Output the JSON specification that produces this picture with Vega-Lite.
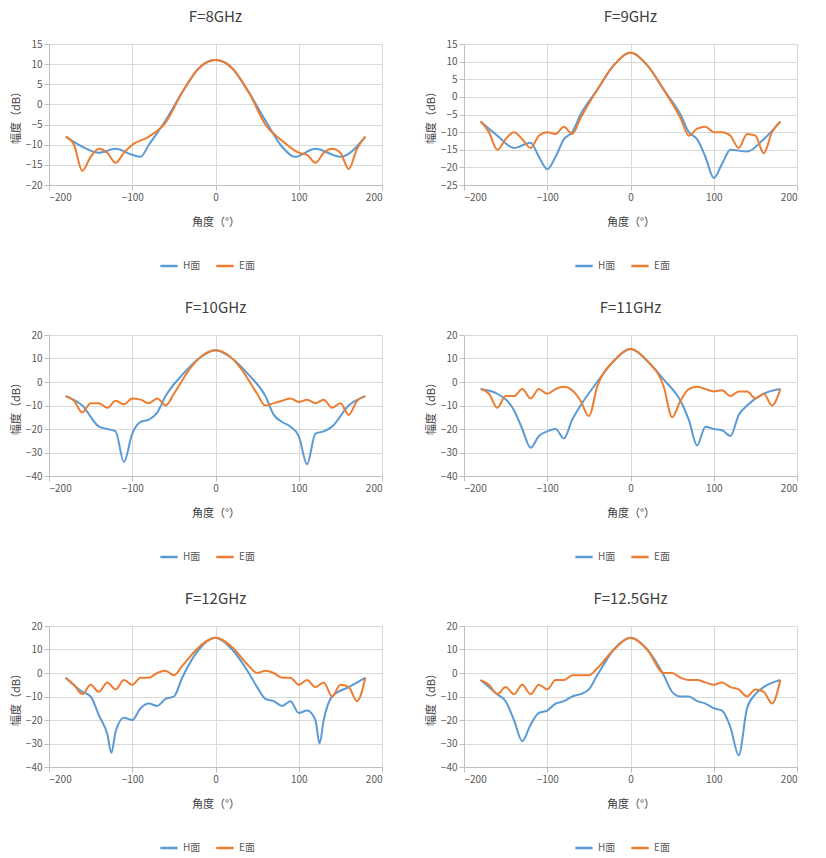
{
"$schema":"https://vega.github.io/schema/vega-lite/v6.json",
"background":"white",
"padding":{"left":10,"top":10,"right":10,"bottom":5},
"columns":2,
"spacing":{"row":30,"column":42},
"resolve":{"legend":{"color":"independent"}},
"config":{"font":"Noto Sans CJK SC","view":{"stroke":null},"axis":{"labelColor":"#595959","titleColor":"#404040","labelFontSize":10,"titleFontSize":11,"titleFontWeight":"normal","gridColor":"#d9d9d9","domainColor":"#bfbfbf","tickColor":"#bfbfbf"},"axisX":{"titlePadding":14},"title":{"fontSize":15,"fontWeight":"normal","color":"#404040","offset":14},"legend":{"orient":"none","legendX":110,"legendY":212,"direction":"horizontal","labelFontSize":10,"labelColor":"#595959","title":null,"symbolType":"stroke","symbolStrokeWidth":2.5,"symbolSize":300}},
"datasets":{
"d8":[
{"a":-180,"s":"H面","v":-8},{"a":-160,"s":"H面","v":-10.5},{"a":-140,"s":"H面","v":-12},{"a":-120,"s":"H面","v":-11},{"a":-100,"s":"H面","v":-12.5},{"a":-90,"s":"H面","v":-13},{"a":-80,"s":"H面","v":-10},{"a":-60,"s":"H面","v":-4},{"a":-40,"s":"H面","v":3},{"a":-20,"s":"H面","v":9},{"a":0,"s":"H面","v":11},{"a":20,"s":"H面","v":9},{"a":40,"s":"H面","v":3},{"a":60,"s":"H面","v":-4},{"a":80,"s":"H面","v":-10.5},{"a":95,"s":"H面","v":-13},{"a":120,"s":"H面","v":-11},{"a":150,"s":"H面","v":-13},{"a":180,"s":"H面","v":-8},
{"a":-180,"s":"E面","v":-8},{"a":-170,"s":"E面","v":-10},{"a":-160,"s":"E面","v":-16.5},{"a":-150,"s":"E面","v":-13},{"a":-140,"s":"E面","v":-11},{"a":-130,"s":"E面","v":-12},{"a":-120,"s":"E面","v":-14.5},{"a":-110,"s":"E面","v":-12},{"a":-100,"s":"E面","v":-10},{"a":-80,"s":"E面","v":-8},{"a":-60,"s":"E面","v":-4.5},{"a":-40,"s":"E面","v":3},{"a":-20,"s":"E面","v":9},{"a":0,"s":"E面","v":11},{"a":20,"s":"E面","v":9},{"a":40,"s":"E面","v":3},{"a":60,"s":"E面","v":-5},{"a":80,"s":"E面","v":-9},{"a":100,"s":"E面","v":-12},{"a":110,"s":"E面","v":-12.5},{"a":120,"s":"E面","v":-14.5},{"a":130,"s":"E面","v":-12},{"a":140,"s":"E面","v":-11},{"a":150,"s":"E面","v":-12},{"a":160,"s":"E面","v":-16},{"a":170,"s":"E面","v":-11},{"a":180,"s":"E面","v":-8}],
"d9":[
{"a":-180,"s":"H面","v":-7},{"a":-160,"s":"H面","v":-11},{"a":-140,"s":"H面","v":-14.5},{"a":-120,"s":"H面","v":-13},{"a":-110,"s":"H面","v":-17},{"a":-100,"s":"H面","v":-20.5},{"a":-90,"s":"H面","v":-17},{"a":-80,"s":"H面","v":-12},{"a":-70,"s":"H面","v":-10},{"a":-60,"s":"H面","v":-5},{"a":-40,"s":"H面","v":2},{"a":-20,"s":"H面","v":9},{"a":0,"s":"H面","v":12.5},{"a":20,"s":"H面","v":9},{"a":40,"s":"H面","v":2},{"a":60,"s":"H面","v":-5},{"a":70,"s":"H面","v":-10},{"a":80,"s":"H面","v":-12},{"a":90,"s":"H面","v":-17},{"a":100,"s":"H面","v":-23},{"a":110,"s":"H面","v":-19},{"a":120,"s":"H面","v":-15},{"a":140,"s":"H面","v":-15.5},{"a":160,"s":"H面","v":-12},{"a":180,"s":"H面","v":-7},
{"a":-180,"s":"E面","v":-7},{"a":-170,"s":"E面","v":-10},{"a":-160,"s":"E面","v":-15},{"a":-150,"s":"E面","v":-12},{"a":-140,"s":"E面","v":-10},{"a":-130,"s":"E面","v":-12},{"a":-120,"s":"E面","v":-14.5},{"a":-110,"s":"E面","v":-11},{"a":-100,"s":"E面","v":-10},{"a":-90,"s":"E面","v":-10.5},{"a":-80,"s":"E面","v":-8.5},{"a":-70,"s":"E面","v":-10.5},{"a":-60,"s":"E面","v":-6},{"a":-40,"s":"E面","v":2},{"a":-20,"s":"E面","v":9},{"a":0,"s":"E面","v":12.5},{"a":20,"s":"E面","v":9},{"a":40,"s":"E面","v":2},{"a":60,"s":"E面","v":-6},{"a":70,"s":"E面","v":-11},{"a":80,"s":"E面","v":-9},{"a":90,"s":"E面","v":-8.5},{"a":100,"s":"E面","v":-10},{"a":110,"s":"E面","v":-10},{"a":120,"s":"E面","v":-11},{"a":130,"s":"E面","v":-14.5},{"a":140,"s":"E面","v":-10.5},{"a":150,"s":"E面","v":-11},{"a":160,"s":"E面","v":-16},{"a":170,"s":"E面","v":-10},{"a":180,"s":"E面","v":-7}],
"d10":[
{"a":-180,"s":"H面","v":-6},{"a":-160,"s":"H面","v":-10},{"a":-140,"s":"H面","v":-19},{"a":-130,"s":"H面","v":-20},{"a":-120,"s":"H面","v":-21},{"a":-110,"s":"H面","v":-34},{"a":-100,"s":"H面","v":-22},{"a":-90,"s":"H面","v":-17},{"a":-80,"s":"H面","v":-16},{"a":-70,"s":"H面","v":-13},{"a":-60,"s":"H面","v":-6},{"a":-40,"s":"H面","v":3},{"a":-20,"s":"H面","v":10},{"a":0,"s":"H面","v":13.5},{"a":20,"s":"H面","v":10},{"a":40,"s":"H面","v":3},{"a":60,"s":"H面","v":-6},{"a":70,"s":"H面","v":-14},{"a":80,"s":"H面","v":-17},{"a":90,"s":"H面","v":-19},{"a":100,"s":"H面","v":-23},{"a":110,"s":"H面","v":-35},{"a":120,"s":"H面","v":-22},{"a":130,"s":"H面","v":-21},{"a":140,"s":"H面","v":-19},{"a":160,"s":"H面","v":-10},{"a":180,"s":"H面","v":-6},
{"a":-180,"s":"E面","v":-6},{"a":-170,"s":"E面","v":-8},{"a":-160,"s":"E面","v":-13},{"a":-150,"s":"E面","v":-9},{"a":-140,"s":"E面","v":-9},{"a":-130,"s":"E面","v":-11},{"a":-120,"s":"E面","v":-8},{"a":-110,"s":"E面","v":-9.5},{"a":-100,"s":"E面","v":-7},{"a":-90,"s":"E面","v":-7.5},{"a":-80,"s":"E面","v":-9},{"a":-70,"s":"E面","v":-7},{"a":-60,"s":"E面","v":-10},{"a":-50,"s":"E面","v":-5},{"a":-30,"s":"E面","v":6},{"a":-15,"s":"E面","v":11.5},{"a":0,"s":"E面","v":13.5},{"a":15,"s":"E面","v":11.5},{"a":30,"s":"E面","v":6},{"a":50,"s":"E面","v":-5},{"a":60,"s":"E面","v":-10},{"a":70,"s":"E面","v":-9},{"a":80,"s":"E面","v":-8},{"a":90,"s":"E面","v":-7},{"a":100,"s":"E面","v":-8.5},{"a":110,"s":"E面","v":-7.5},{"a":120,"s":"E面","v":-9},{"a":130,"s":"E面","v":-7.5},{"a":140,"s":"E面","v":-11},{"a":150,"s":"E面","v":-9},{"a":160,"s":"E面","v":-14},{"a":170,"s":"E面","v":-8},{"a":180,"s":"E面","v":-6}],
"d11":[
{"a":-180,"s":"H面","v":-3},{"a":-160,"s":"H面","v":-5},{"a":-140,"s":"H面","v":-12},{"a":-130,"s":"H面","v":-20},{"a":-120,"s":"H面","v":-28},{"a":-110,"s":"H面","v":-23},{"a":-100,"s":"H面","v":-21},{"a":-90,"s":"H面","v":-20},{"a":-80,"s":"H面","v":-24},{"a":-70,"s":"H面","v":-16},{"a":-60,"s":"H面","v":-10},{"a":-40,"s":"H面","v":0},{"a":-20,"s":"H面","v":9},{"a":0,"s":"H面","v":14},{"a":20,"s":"H面","v":9},{"a":40,"s":"H面","v":1},{"a":60,"s":"H面","v":-8},{"a":70,"s":"H面","v":-16},{"a":80,"s":"H面","v":-27},{"a":90,"s":"H面","v":-19},{"a":100,"s":"H面","v":-20},{"a":110,"s":"H面","v":-20.5},{"a":120,"s":"H面","v":-23},{"a":130,"s":"H面","v":-14},{"a":140,"s":"H面","v":-10},{"a":160,"s":"H面","v":-5},{"a":180,"s":"H面","v":-3},
{"a":-180,"s":"E面","v":-3},{"a":-170,"s":"E面","v":-5},{"a":-160,"s":"E面","v":-11},{"a":-150,"s":"E面","v":-6},{"a":-140,"s":"E面","v":-6},{"a":-130,"s":"E面","v":-3},{"a":-120,"s":"E面","v":-7},{"a":-110,"s":"E面","v":-3},{"a":-100,"s":"E面","v":-5},{"a":-90,"s":"E面","v":-3},{"a":-80,"s":"E面","v":-2},{"a":-70,"s":"E面","v":-3.5},{"a":-60,"s":"E面","v":-8},{"a":-50,"s":"E面","v":-14.5},{"a":-40,"s":"E面","v":-2},{"a":-20,"s":"E面","v":9},{"a":0,"s":"E面","v":14},{"a":20,"s":"E面","v":9},{"a":40,"s":"E面","v":-2},{"a":50,"s":"E面","v":-15},{"a":60,"s":"E面","v":-8},{"a":70,"s":"E面","v":-3},{"a":80,"s":"E面","v":-2},{"a":90,"s":"E面","v":-3},{"a":100,"s":"E面","v":-4},{"a":110,"s":"E面","v":-3.5},{"a":120,"s":"E面","v":-6},{"a":130,"s":"E面","v":-4},{"a":140,"s":"E面","v":-4},{"a":150,"s":"E面","v":-7},{"a":160,"s":"E面","v":-5},{"a":170,"s":"E面","v":-10},{"a":180,"s":"E面","v":-3}],
"d12":[
{"a":-180,"s":"H面","v":-2},{"a":-160,"s":"H面","v":-8},{"a":-150,"s":"H面","v":-10},{"a":-140,"s":"H面","v":-18},{"a":-130,"s":"H面","v":-26},{"a":-125,"s":"H面","v":-34},{"a":-120,"s":"H面","v":-25},{"a":-110,"s":"H面","v":-19},{"a":-100,"s":"H面","v":-20},{"a":-90,"s":"H面","v":-15},{"a":-80,"s":"H面","v":-13},{"a":-70,"s":"H面","v":-14},{"a":-60,"s":"H面","v":-11},{"a":-50,"s":"H面","v":-10},{"a":-40,"s":"H面","v":-2},{"a":-20,"s":"H面","v":10},{"a":0,"s":"H面","v":15},{"a":20,"s":"H面","v":10},{"a":40,"s":"H面","v":0},{"a":50,"s":"H面","v":-6},{"a":60,"s":"H面","v":-11},{"a":70,"s":"H面","v":-12},{"a":80,"s":"H面","v":-14},{"a":90,"s":"H面","v":-12},{"a":100,"s":"H面","v":-17},{"a":110,"s":"H面","v":-16},{"a":120,"s":"H面","v":-20},{"a":125,"s":"H面","v":-30},{"a":130,"s":"H面","v":-20},{"a":140,"s":"H面","v":-10},{"a":160,"s":"H面","v":-6},{"a":180,"s":"H面","v":-2},
{"a":-180,"s":"E面","v":-2},{"a":-170,"s":"E面","v":-5},{"a":-160,"s":"E面","v":-9},{"a":-150,"s":"E面","v":-5},{"a":-140,"s":"E面","v":-8},{"a":-130,"s":"E面","v":-4},{"a":-120,"s":"E面","v":-7},{"a":-110,"s":"E面","v":-3},{"a":-100,"s":"E面","v":-5},{"a":-90,"s":"E面","v":-2},{"a":-80,"s":"E面","v":-2},{"a":-70,"s":"E面","v":0},{"a":-60,"s":"E面","v":1},{"a":-50,"s":"E面","v":-1},{"a":-40,"s":"E面","v":3},{"a":-20,"s":"E面","v":11},{"a":0,"s":"E面","v":15},{"a":20,"s":"E面","v":11},{"a":40,"s":"E面","v":3},{"a":50,"s":"E面","v":0},{"a":60,"s":"E面","v":1},{"a":70,"s":"E面","v":0},{"a":80,"s":"E面","v":-2},{"a":90,"s":"E面","v":-2},{"a":100,"s":"E面","v":-5},{"a":110,"s":"E面","v":-3},{"a":120,"s":"E面","v":-6},{"a":130,"s":"E面","v":-4},{"a":140,"s":"E面","v":-10},{"a":150,"s":"E面","v":-5},{"a":160,"s":"E面","v":-6},{"a":170,"s":"E面","v":-12},{"a":180,"s":"E面","v":-2}],
"d125":[
{"a":-180,"s":"H面","v":-3},{"a":-160,"s":"H面","v":-9},{"a":-150,"s":"H面","v":-12},{"a":-140,"s":"H面","v":-20},{"a":-130,"s":"H面","v":-29},{"a":-120,"s":"H面","v":-22},{"a":-110,"s":"H面","v":-17},{"a":-100,"s":"H面","v":-16},{"a":-90,"s":"H面","v":-13},{"a":-80,"s":"H面","v":-12},{"a":-70,"s":"H面","v":-10},{"a":-60,"s":"H面","v":-9},{"a":-50,"s":"H面","v":-7},{"a":-40,"s":"H面","v":-1},{"a":-20,"s":"H面","v":10},{"a":0,"s":"H面","v":15},{"a":20,"s":"H面","v":10},{"a":40,"s":"H面","v":-1},{"a":50,"s":"H面","v":-8},{"a":60,"s":"H面","v":-10},{"a":70,"s":"H面","v":-10},{"a":80,"s":"H面","v":-12},{"a":90,"s":"H面","v":-13},{"a":100,"s":"H面","v":-15},{"a":110,"s":"H面","v":-16},{"a":120,"s":"H面","v":-23},{"a":130,"s":"H面","v":-35},{"a":140,"s":"H面","v":-15},{"a":150,"s":"H面","v":-9},{"a":160,"s":"H面","v":-6},{"a":180,"s":"H面","v":-3},
{"a":-180,"s":"E面","v":-3},{"a":-170,"s":"E面","v":-5},{"a":-160,"s":"E面","v":-9},{"a":-150,"s":"E面","v":-6},{"a":-140,"s":"E面","v":-9},{"a":-130,"s":"E面","v":-5},{"a":-120,"s":"E面","v":-9},{"a":-110,"s":"E面","v":-5},{"a":-100,"s":"E面","v":-7},{"a":-90,"s":"E面","v":-3},{"a":-80,"s":"E面","v":-3},{"a":-70,"s":"E面","v":-1},{"a":-60,"s":"E面","v":-1},{"a":-50,"s":"E面","v":-1},{"a":-40,"s":"E面","v":2},{"a":-20,"s":"E面","v":10},{"a":0,"s":"E面","v":15},{"a":20,"s":"E面","v":10},{"a":40,"s":"E面","v":0},{"a":50,"s":"E面","v":0},{"a":60,"s":"E面","v":-2},{"a":70,"s":"E面","v":-3},{"a":80,"s":"E面","v":-3},{"a":90,"s":"E面","v":-4},{"a":100,"s":"E面","v":-5},{"a":110,"s":"E面","v":-4},{"a":120,"s":"E面","v":-6},{"a":130,"s":"E面","v":-7},{"a":140,"s":"E面","v":-10},{"a":150,"s":"E面","v":-7},{"a":160,"s":"E面","v":-8},{"a":170,"s":"E面","v":-13},{"a":180,"s":"E面","v":-3}]
},
"concat":[
{"title":"F=8GHz","data":{"name":"d8"},"width":333,"height":141,"mark":{"type":"line","interpolate":"monotone","strokeWidth":2},"encoding":{"x":{"field":"a","type":"quantitative","title":"角度（°）","scale":{"domain":[-200,200]},"axis":{"values":[-200,-100,0,100,200]}},"y":{"field":"v","type":"quantitative","title":"幅度（dB）","scale":{"domain":[-20,15]},"axis":{"tickCount":8}},"color":{"field":"s","type":"nominal","sort":["H面","E面"],"scale":{"domain":["H面","E面"],"range":["#5B9BD5","#ED7D31"]}}}},
{"title":"F=9GHz","data":{"name":"d9"},"width":333,"height":141,"mark":{"type":"line","interpolate":"monotone","strokeWidth":2},"encoding":{"x":{"field":"a","type":"quantitative","title":"角度（°）","scale":{"domain":[-200,200]},"axis":{"values":[-200,-100,0,100,200]}},"y":{"field":"v","type":"quantitative","title":"幅度（dB）","scale":{"domain":[-25,15]},"axis":{"values":[-25,-20,-15,-10,-5,0,5,10,15]}},"color":{"field":"s","type":"nominal","sort":["H面","E面"],"scale":{"domain":["H面","E面"],"range":["#5B9BD5","#ED7D31"]}}}},
{"title":"F=10GHz","data":{"name":"d10"},"width":333,"height":141,"mark":{"type":"line","interpolate":"monotone","strokeWidth":2},"encoding":{"x":{"field":"a","type":"quantitative","title":"角度（°）","scale":{"domain":[-200,200]},"axis":{"values":[-200,-100,0,100,200]}},"y":{"field":"v","type":"quantitative","title":"幅度（dB）","scale":{"domain":[-40,20]},"axis":{"values":[-40,-30,-20,-10,0,10,20]}},"color":{"field":"s","type":"nominal","sort":["H面","E面"],"scale":{"domain":["H面","E面"],"range":["#5B9BD5","#ED7D31"]}}}},
{"title":"F=11GHz","data":{"name":"d11"},"width":333,"height":141,"mark":{"type":"line","interpolate":"monotone","strokeWidth":2},"encoding":{"x":{"field":"a","type":"quantitative","title":"角度（°）","scale":{"domain":[-200,200]},"axis":{"values":[-200,-100,0,100,200]}},"y":{"field":"v","type":"quantitative","title":"幅度（dB）","scale":{"domain":[-40,20]},"axis":{"values":[-40,-30,-20,-10,0,10,20]}},"color":{"field":"s","type":"nominal","sort":["H面","E面"],"scale":{"domain":["H面","E面"],"range":["#5B9BD5","#ED7D31"]}}}},
{"title":"F=12GHz","data":{"name":"d12"},"width":333,"height":141,"mark":{"type":"line","interpolate":"monotone","strokeWidth":2},"encoding":{"x":{"field":"a","type":"quantitative","title":"角度（°）","scale":{"domain":[-200,200]},"axis":{"values":[-200,-100,0,100,200]}},"y":{"field":"v","type":"quantitative","title":"幅度（dB）","scale":{"domain":[-40,20]},"axis":{"values":[-40,-30,-20,-10,0,10,20]}},"color":{"field":"s","type":"nominal","sort":["H面","E面"],"scale":{"domain":["H面","E面"],"range":["#5B9BD5","#ED7D31"]}}}},
{"title":"F=12.5GHz","data":{"name":"d125"},"width":333,"height":141,"mark":{"type":"line","interpolate":"monotone","strokeWidth":2},"encoding":{"x":{"field":"a","type":"quantitative","title":"角度（°）","scale":{"domain":[-200,200]},"axis":{"values":[-200,-100,0,100,200]}},"y":{"field":"v","type":"quantitative","title":"幅度（dB）","scale":{"domain":[-40,20]},"axis":{"values":[-40,-30,-20,-10,0,10,20]}},"color":{"field":"s","type":"nominal","sort":["H面","E面"],"scale":{"domain":["H面","E面"],"range":["#5B9BD5","#ED7D31"]}}}}
]
}
